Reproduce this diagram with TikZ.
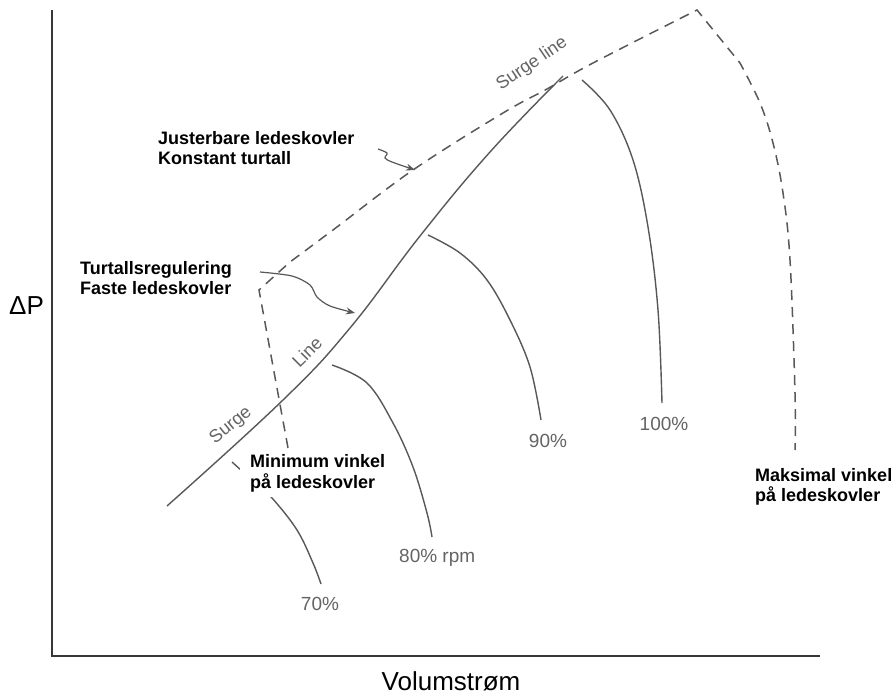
\documentclass[tikz,border=0pt]{standalone}
\usepackage{fontspec}
\setmainfont{Liberation Sans}
\usetikzlibrary{arrows.meta}
\definecolor{linegrey}{RGB}{88,88,88}
\definecolor{textgrey}{RGB}{100,100,100}
\definecolor{axisgrey}{RGB}{55,55,55}
\begin{document}
\begin{tikzpicture}[x=1pt,y=-1pt,
  axisline/.style={draw=axisgrey,line width=1.6pt},
  speedcurve/.style={draw=linegrey,line width=1.4pt},
  dashcurve/.style={draw=linegrey,line width=1.5pt,dash pattern=on 10pt off 7pt},
  boldlabel/.style={anchor=base west,inner sep=0pt,text=black,font=\bfseries\fontsize{18}{20}\selectfont},
  greylabel/.style={anchor=base,inner sep=0pt,text=textgrey,font=\fontsize{19}{22}\selectfont},
  surgelabel/.style={inner sep=0pt,text=textgrey,font=\fontsize{18}{22}\selectfont},
  axislabel/.style={inner sep=0pt,text=black,font=\fontsize{26}{30}\selectfont},
  pointer/.style={draw=linegrey,line width=1.2pt,-{Stealth[length=9pt,width=7pt]}}
]
\useasboundingbox (0,0) rectangle (895,696);

% axes
\coordinate (ytop) at (52,10);
\coordinate (origin) at (52,656);
\coordinate (xend) at (820,656);
\draw[axisline] (ytop) -- (origin) -- (xend);
\node[axislabel,anchor=base west] (dp) at (9,314) {ΔP};
\node[axislabel,anchor=base] (vol) at (451,690) {Volumstrøm};

% surge line
\draw[speedcurve] plot[smooth,tension=0.7] coordinates
  {(167,506) (283,400) (350,328) (420,236) (490,152) (563,76)};

% speed curves
\draw[speedcurve] plot[smooth,tension=0.6] coordinates
  {(582,80) (610,110) (633,160) (648,227) (658,310) (662,403)};
\draw[speedcurve] plot[smooth,tension=0.6] coordinates
  {(428,235) (460,253) (487,280) (510,320) (530,367) (541,420)};
\draw[speedcurve] plot[smooth,tension=0.6] coordinates
  {(332,365) (367,383) (393,423) (413,467) (427,513) (432,537)};
\draw[speedcurve] plot[smooth,tension=0.6] coordinates
  {(232,462) (252,480) (272,498) (297,530) (313,563) (321,584)};

% guide vane limit (dashed)
\draw[dashcurve] (288,448) -- (259,290)
  -- plot[smooth,tension=0.6] coordinates {(290,262) (333,230) (413,170) (503,113) (547,89) (593,63) (697,10)}
  -- plot[smooth,tension=0.6] coordinates {(740,63) (760,103) (773,143) (783,193) (790,260) (795,393) (795,450)};

% white patch behind the minimum-angle label
\fill[white] (240,449) rectangle (402,497);

% labels on the lines
\node[surgelabel,rotate=34] (sl) at (532,64) {Surge line};
\node[surgelabel,rotate=45] (ln) at (307,352) {Line};
\node[surgelabel,rotate=39] (sg) at (231,426) {Surge};

\node[greylabel] (p100) at (664,430) {100\%};
\node[greylabel] (p90) at (548,447) {90\%};
\node[greylabel,anchor=base west] (p80) at (399,562) {80\% rpm};
\node[greylabel] (p70) at (320,610) {70\%};

% bold labels
\node[boldlabel] (j1) at (158,144) {Justerbare ledeskovler};
\node[boldlabel] (j2) at (158,164) {Konstant turtall};
\node[boldlabel] (t1) at (80,274) {Turtallsregulering};
\node[boldlabel] (t2) at (80,294) {Faste ledeskovler};
\node[boldlabel] (m1) at (250,467) {Minimum vinkel};
\node[boldlabel] (m2) at (250,488) {på ledeskovler};
\node[boldlabel] (x1) at (755,481) {Maksimal vinkel};
\node[boldlabel] (x2) at (755,501) {på ledeskovler};

% pointers
\coordinate (a1s) at (378,149);
\coordinate (a1e) at (415,170);
\draw[pointer] plot[smooth,tension=0.5] coordinates
  {(a1s) (387,153) (385,158) (392,162) (a1e)};
\coordinate (a2s) at (260,272);
\coordinate (a2e) at (355,313);
\draw[pointer] plot[smooth,tension=0.5] coordinates
  {(a2s) (292,276) (310,285) (317,297) (330,306) (a2e)};
\end{tikzpicture}
\end{document}
